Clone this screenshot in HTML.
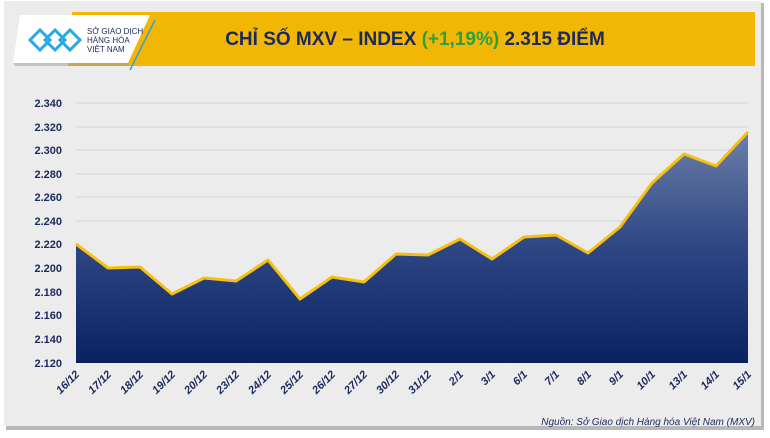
<!DOCTYPE html>
<html><head><meta charset="utf-8"><style>
body{margin:0;width:770px;height:433px;background:#fff;overflow:hidden;font-family:"Liberation Sans",sans-serif}
</style></head><body>
<svg width="770" height="433" viewBox="0 0 770 433" xmlns="http://www.w3.org/2000/svg">
<defs>
<linearGradient id="g" x1="0" y1="0" x2="0" y2="1"><stop offset="0" stop-color="#6b7fa8"/><stop offset="0.5" stop-color="#2e4683"/><stop offset="1" stop-color="#0a2260"/></linearGradient>
</defs>
<rect x="6" y="3" width="758" height="427" fill="#b8b8b8"/>
<rect x="4" y="1" width="757" height="425" fill="#ececec"/>
<polygon points="72,12 755,12 755,66 68,66" fill="#f2b705"/>
<polygon points="20,15 150,15 128,63 13,63" fill="#fff"/>
<polygon points="13,63 128,63 130,66 15,66" fill="#999" opacity=".5"/>
<line x1="130" y1="70" x2="155" y2="20" stroke="#2aa5e0" stroke-width="1.5"/>
<g fill="none" stroke="#29a9e1" stroke-width="3">
<path d="M30,40 l10,-10 l10,10 l-10,10 z M45,40 l10,-10 l10,10 l-10,10 z M60,40 l10,-10 l10,10 l-10,10z"/>
</g>
<text x="87" y="34" font-size="8" fill="#1a2b5c">SỞ GIAO DỊCH</text>
<text x="87" y="43" font-size="8" fill="#1a2b5c">HÀNG HÓA</text>
<text x="87" y="52" font-size="8" fill="#1a2b5c">VIỆT NAM</text>
<text x="415" y="45" font-size="19" font-weight="bold" fill="#1b2a5e" text-anchor="middle">CHỈ SỐ MXV – INDEX <tspan fill="#2e9e3e">(+1,19%)</tspan> 2.315 ĐIỂM</text>
<g stroke="#cfd3da" stroke-width="1">
<line x1="76" y1="103" x2="748" y2="103"/><line x1="76" y1="127" x2="748" y2="127"/><line x1="76" y1="150" x2="748" y2="150"/><line x1="76" y1="174" x2="748" y2="174"/><line x1="76" y1="197" x2="748" y2="197"/><line x1="76" y1="221" x2="748" y2="221"/>
</g>
<g font-size="11" font-weight="bold" fill="#1b2a5e" text-anchor="end">
<text x="62" y="107">2.340</text><text x="62" y="131">2.320</text><text x="62" y="154">2.300</text><text x="62" y="178">2.280</text><text x="62" y="201">2.260</text><text x="62" y="225">2.240</text><text x="62" y="248">2.220</text><text x="62" y="272">2.200</text><text x="62" y="296">2.180</text><text x="62" y="319">2.160</text><text x="62" y="343">2.140</text><text x="62" y="367">2.120</text>
</g>
<polygon fill="url(#g)" points="76,363 76,244 108,268 140,267 172,294 204,278 236,281 268,260 300,299 332,277 364,282 396,254 428,255 460,239 492,259 524,237 556,235 588,253 620,227 652,183 684,154 716,166 748,132 748,363"/>
<polyline fill="none" stroke="#f5c010" stroke-width="3" stroke-linejoin="round" points="76,244 108,268 140,267 172,294 204,278 236,281 268,260 300,299 332,277 364,282 396,254 428,255 460,239 492,259 524,237 556,235 588,253 620,227 652,183 684,154 716,166 748,132"/>
<g font-size="11" font-weight="bold" font-style="italic" fill="#1b2a5e" text-anchor="end">
<text transform="translate(80,375) rotate(-45)">16/12</text><text transform="translate(112,375) rotate(-45)">17/12</text><text transform="translate(144,375) rotate(-45)">18/12</text><text transform="translate(176,375) rotate(-45)">19/12</text><text transform="translate(208,375) rotate(-45)">20/12</text><text transform="translate(240,375) rotate(-45)">23/12</text><text transform="translate(272,375) rotate(-45)">24/12</text><text transform="translate(304,375) rotate(-45)">25/12</text><text transform="translate(336,375) rotate(-45)">26/12</text><text transform="translate(368,375) rotate(-45)">27/12</text><text transform="translate(400,375) rotate(-45)">30/12</text><text transform="translate(432,375) rotate(-45)">31/12</text><text transform="translate(464,375) rotate(-45)">2/1</text><text transform="translate(496,375) rotate(-45)">3/1</text><text transform="translate(528,375) rotate(-45)">6/1</text><text transform="translate(560,375) rotate(-45)">7/1</text><text transform="translate(592,375) rotate(-45)">8/1</text><text transform="translate(624,375) rotate(-45)">9/1</text><text transform="translate(656,375) rotate(-45)">10/1</text><text transform="translate(688,375) rotate(-45)">13/1</text><text transform="translate(720,375) rotate(-45)">14/1</text><text transform="translate(752,375) rotate(-45)">15/1</text>
</g>
<text x="755" y="425" font-size="10" font-style="italic" fill="#1b2a5e" text-anchor="end">Nguồn: Sở Giao dịch Hàng hóa Việt Nam (MXV)</text>
</svg>
</body></html>
